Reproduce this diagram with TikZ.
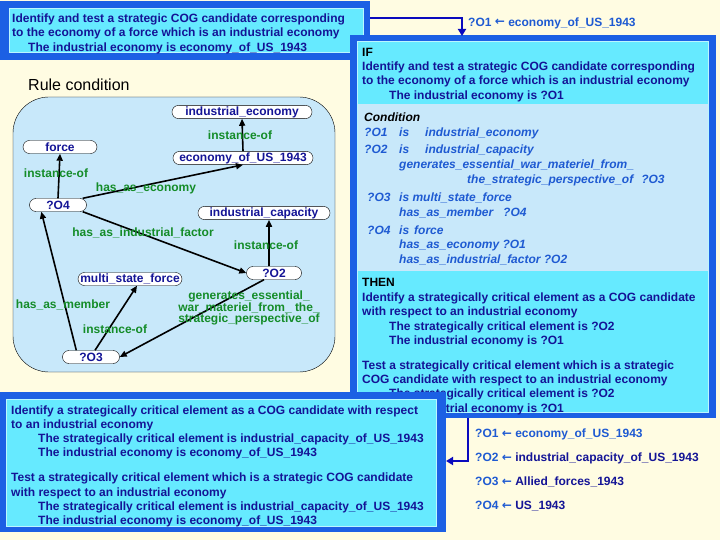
\documentclass[tikz,border=0pt]{standalone}
\usepackage{fontspec}
\setmainfont{Liberation Sans}
\newfontfamily\arrowfont{DejaVu Sans}
\usetikzlibrary{positioning, arrows.meta}
\definecolor{cFrame}{RGB}{28,96,228}
\definecolor{cCyan}{RGB}{102,234,255}
\definecolor{cPale}{RGB}{200,232,250}
\definecolor{cBg}{RGB}{255,252,226}
\definecolor{cNavy}{RGB}{20,20,150}
\definecolor{cBlue}{RGB}{30,90,210}
\definecolor{cGreen}{RGB}{20,140,40}
\definecolor{cLink}{RGB}{10,10,190}
\newcommand{\bodyfont}{\fontsize{12}{13}\selectfont\bfseries}
\newcommand{\getsarrow}{{\arrowfont\bfseries\raisebox{0.5pt}{←}}}
\tikzset{
  txt/.style={anchor=base west, inner sep=0pt, font=\bodyfont, text=cNavy},
  kw/.style={txt, text=black},
  cond/.style={txt, text=cBlue, font=\bodyfont\itshape},
  bind/.style={txt, text=cBlue},
  concept/.style={draw=black, fill=white, rounded corners=6.5pt, minimum height=13pt,
    inner sep=1pt, font=\bodyfont, text=cNavy},
  lbl/.style={inner sep=0pt, font=\bodyfont, text=cGreen},
  arc/.style={draw=black, line width=1.6pt, -{Triangle[length=7pt,width=6pt]}},
  link/.style={draw=cLink, line width=2.6pt, -{Triangle[length=7pt,width=8pt]}}
}

\begin{document}
\begin{tikzpicture}[x=1pt, y=-1pt]
    % slide background
    \fill[cBg] (0,0) rectangle (720,540);
    \useasboundingbox (0,0) rectangle (720,540);

    % Task box (top left)
    \fill[cFrame] (0,1) rectangle (370,60);
    \draw[fill=cCyan, draw=white!55!cCyan, line width=1pt] (9,9) rectangle (363,53);
    \node[txt] (tl1) at (12,22.5) {Identify and test a strategic COG candidate corresponding};
    \node[txt] (tl2) at (12,37) {to the economy of a force which is an industrial economy};
    \node[txt] (tl3) at (28,51.5) {The industrial economy is economy\_of\_US\_1943};

    % Rule condition pane
    \node[anchor=west, inner sep=0pt, font=\fontsize{16}{18}\selectfont] (rc) at (28,85) {Rule condition};
    \draw[fill=cPale, rounded corners=36pt] (13,97) rectangle (335,372);

    % Concepts
    \node[concept, minimum width=140] (indeco) at (242,112) {industrial\_economy};
    \node[concept, minimum width=140] (eco) at (243,158) {economy\_of\_US\_1943};
    \node[concept, minimum width=74] (force) at (60,147) {force};
    \node[concept, minimum width=57] (o4) at (58,205) {?O4};
    \node[concept, minimum width=132] (indcap) at (264,213) {industrial\_capacity};
    \node[concept, minimum width=55] (o2) at (274,273) {?O2};
    \node[concept, minimum width=104] (msf) at (130,279) {multi\_state\_force};
    \node[concept, minimum width=57] (o3) at (91,357) {?O3};

    % Relations
    \draw[arc] (eco.north) -- (indeco.south);
    \draw[arc] (o4.north) -- (force.south);
    \draw[arc] ([xshift=-4pt]o4.north east) -- (eco.south);
    \draw[arc] ([xshift=-4pt]o4.south east) -- (o2.west);
    \draw[arc] ([xshift=-5pt]o2.north) -- ([xshift=-5pt]o2.north |- indcap.south);
    \draw[arc] ([xshift=14pt]o3.north west) -- ([xshift=12pt]o4.south west);
    \draw[arc] ([xshift=4pt]o3.north) -- ([xshift=7pt]msf.south);
    \draw[arc] ([xshift=-10pt]o2.south) -- (o3.east);

    % Relation labels
    \node[lbl] (r1) at (240,135) {instance-of};
    \node[lbl] (r2) at (56,173) {instance-of};
    \node[lbl] (r3) at (146,188) {has\_as\_economy};
    \node[lbl] (r4) at (143,233) {has\_as\_industrial\_factor};
    \node[lbl] (r5) at (266,245) {instance-of};
    \node[lbl] (r6) at (63,305) {has\_as\_member};
    \node[lbl] (r7) at (115,329) {instance-of};
    \node[lbl, align=center] (r8) at (249,308) {generates\_essential\_\\[-1.5pt]war\_materiel\_from\_ the\_\\[-1.5pt]strategic\_perspective\_of};

    % Rule box (right)
    \fill[cFrame] (350,35) rectangle (716,418);
    \fill[cCyan] (357,42) rectangle (708,104);
    \fill[cPale] (357,104) rectangle (708,271);
    \fill[cCyan] (357,271) rectangle (708,412);
    \draw[white!55!cCyan, line width=1pt] (357,42) rectangle (708,412);

    % IF part
    \node[kw] (if0) at (362,56.5) {IF};
    \node[txt] (if1) at (362,71) {Identify and test a strategic COG candidate corresponding};
    \node[txt] (if2) at (362,85) {to the economy of a force which is an industrial economy};
    \node[txt] (if3) at (389,99.5) {The industrial economy is ?O1};

    % Condition part
    \node[kw, font=\bodyfont\itshape] (c0) at (364,121.5) {Condition};
    \node[cond] (c1) at (364,136.5) {\makebox[35pt][l]{?O1}\makebox[26pt][l]{is}industrial\_economy};
    \node[cond] (c2) at (364,153.5) {\makebox[35pt][l]{?O2}\makebox[26pt][l]{is}industrial\_capacity};
    \node[cond] (c3) at (399,168.5) {generates\_essential\_war\_materiel\_from\_};
    \node[cond] (c4) at (467,183.5) {the\_strategic\_perspective\_of\hspace{8pt}?O3};
    \node[cond] (c5) at (367,201.5) {\makebox[32pt][l]{?O3}is multi\_state\_force};
    \node[cond] (c6) at (399,216.5) {has\_as\_member\hspace{10pt}?O4};
    \node[cond] (c7) at (367,234.5) {\makebox[32pt][l]{?O4}is\hspace{5pt}force};
    \node[cond] (c8) at (399,248.5) {has\_as\_economy ?O1};
    \node[cond] (c9) at (399,263.5) {has\_as\_industrial\_factor ?O2};

    % THEN part
    \node[kw] (th0) at (362,286.5) {THEN};
    \node[txt] (th1) at (362,301.5) {Identify a strategically critical element as a COG candidate};
    \node[txt] (th2) at (362,315.5) {with respect to an industrial economy};
    \node[txt] (th3) at (389,330.5) {The strategically critical element is ?O2};
    \node[txt] (th4) at (389,344.5) {The industrial economy is ?O1};
    \node[txt] (th5) at (362,369.5) {Test a strategically critical element which is a strategic};
    \node[txt] (th6) at (362,383.5) {COG candidate with respect to an industrial economy};
    \node[txt] (th7) at (389,397.5) {The strategically critical element is ?O2};
    \node[txt] (th8) at (389,412.5) {The industrial economy is ?O1};

    % Result box (bottom left)
    \fill[cFrame] (0,392) rectangle (446,532);
    \draw[fill=cCyan, draw=white!55!cCyan, line width=1pt] (6,399) rectangle (436,526);
    \node[txt] (bl1) at (11,414) {Identify a strategically critical element as a COG candidate with respect};
    \node[txt] (bl2) at (11,428) {to an industrial economy};
    \node[txt] (bl3) at (38,442.5) {The strategically critical element is industrial\_capacity\_of\_US\_1943};
    \node[txt] (bl4) at (38,456.5) {The industrial economy is economy\_of\_US\_1943};
    \node[txt] (bl5) at (11,481.5) {Test a strategically critical element which is a strategic COG candidate};
    \node[txt] (bl6) at (11,496) {with respect to an industrial economy};
    \node[txt] (bl7) at (38,510.5) {The strategically critical element is industrial\_capacity\_of\_US\_1943};
    \node[txt] (bl8) at (38,524.5) {The industrial economy is economy\_of\_US\_1943};

    % Links between boxes
    \coordinate (tlOut) at (370,18);
    \coordinate (ifIn) at (462,36);
    \draw[link] (tlOut) -| (ifIn);
    \node[bind] (b0) at (468,26.5) {?O1 \getsarrow{} economy\_of\_US\_1943};

    \coordinate (thenOut) at (468,418);
    \coordinate (resIn) at (446,461);
    \draw[link] (thenOut) |- (resIn);

    % Bindings
    \node[bind] (b1) at (475,437.5) {?O1 \getsarrow{} economy\_of\_US\_1943};
    \node[bind] (b2) at (475,461.5) {?O2 \getsarrow{} \textcolor{cNavy}{industrial\_capacity\_of\_US\_1943}};
    \node[bind] (b3) at (475,485.5) {?O3 \getsarrow{} \textcolor{cNavy}{Allied\_forces\_1943}};
    \node[bind] (b4) at (475,509.5) {?O4 \getsarrow{} \textcolor{cNavy}{US\_1943}};
\end{tikzpicture}
\end{document}
